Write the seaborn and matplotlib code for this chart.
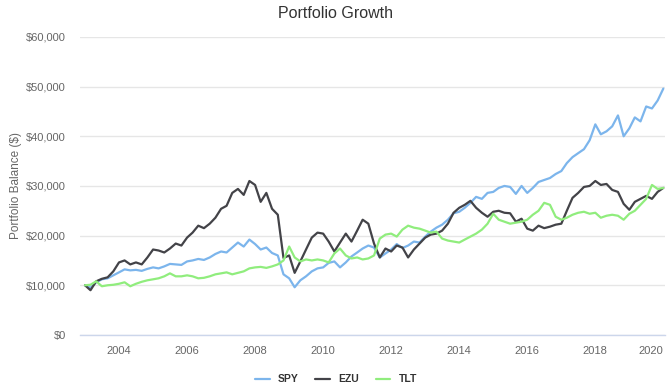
import matplotlib
matplotlib.use("Agg")
import matplotlib.pyplot as plt
import matplotlib.dates as mdates
from matplotlib.ticker import FuncFormatter
import numpy as np
import pandas as pd
import seaborn as sns

# bimonthly balances in thousands of dollars, Jan 2003 .. Jan 2020
spy = [
    10.0, 9.5, 10.6, 11.2, 11.4, 12.0,
    12.6, 13.2, 13.0, 13.1, 12.9, 13.3,
    13.6, 13.4, 13.8, 14.3, 14.2, 14.1,
    14.8, 15.0, 15.3, 15.1, 15.6, 16.3,
    16.8, 16.6, 17.6, 18.6, 17.8, 19.2,
    18.3, 17.2, 17.6, 16.5, 16.0, 12.2,
    11.4, 9.6, 11.0, 11.8, 12.8, 13.4,
    13.6, 14.5, 14.8, 13.6, 14.6, 15.8,
    16.6, 17.4, 18.0, 17.6, 15.6, 16.4,
    17.2, 18.3, 17.5, 18.0, 18.8, 18.6,
    19.8, 20.8, 21.6, 22.2, 23.2, 24.5,
    24.8, 25.6, 26.6, 27.8, 27.4, 28.6,
    28.8, 29.6, 30.0, 29.8, 28.4, 30.0,
    28.6, 29.6, 30.8, 31.2, 31.6, 32.4,
    33.0, 34.6, 35.8, 36.6, 37.4, 39.2,
    42.4, 40.4, 41.0, 42.0, 44.2, 40.0,
    41.6, 43.8, 43.0, 46.0, 45.6, 47.2,
    49.6,
]
ezu = [
    10.0, 9.0, 10.8, 11.3, 11.6, 12.8,
    14.6, 15.0, 14.2, 14.6, 14.2, 15.6,
    17.2, 17.0, 16.6, 17.4, 18.4, 18.0,
    19.6, 20.6, 22.0, 21.5, 22.4, 23.6,
    25.4, 26.0, 28.6, 29.4, 28.2, 31.0,
    30.2, 26.8, 28.6, 25.4, 24.2, 15.5,
    16.0, 12.5, 14.8, 17.2, 19.6, 20.6,
    20.4, 18.8, 16.8, 18.6, 20.4, 18.8,
    21.0, 23.2, 22.4, 18.4, 15.6, 17.4,
    16.8, 18.0, 17.6, 15.6, 17.2, 18.4,
    19.6, 20.2, 20.4, 21.0, 22.4, 24.6,
    25.6, 26.2, 27.0, 25.6, 24.6, 23.8,
    24.8, 25.0, 24.6, 24.5, 22.8, 23.4,
    21.4, 21.0, 22.0, 21.5, 21.8, 22.2,
    22.4, 25.0, 27.6, 28.6, 29.8, 30.0,
    31.0, 30.2, 30.4, 29.2, 28.8, 26.4,
    25.2, 26.8, 27.4, 28.0, 27.4, 28.8,
    29.6,
]
tlt = [
    10.0, 10.1, 10.8, 9.8, 10.0, 10.1,
    10.3, 10.6, 9.8, 10.3, 10.7, 11.0,
    11.2, 11.4, 11.8, 12.4, 11.8, 11.8,
    12.0, 11.8, 11.4, 11.5, 11.8, 12.2,
    12.4, 12.6, 12.2, 12.5, 12.8, 13.4,
    13.6, 13.7, 13.5, 13.8, 14.2, 15.0,
    17.8, 15.6, 14.8, 15.2, 15.0, 15.2,
    15.0, 14.6, 16.4, 17.4, 16.0, 15.4,
    15.6, 15.2, 15.4, 16.0, 19.4, 20.2,
    20.4, 19.8, 21.2, 22.0, 21.6, 21.4,
    21.0, 20.6, 20.8, 19.4, 19.0, 18.8,
    18.6, 19.2, 19.8, 20.4, 21.2, 22.4,
    24.4, 23.2, 22.8, 22.4, 22.6, 22.8,
    23.2, 24.2, 25.0, 26.6, 26.2, 23.8,
    23.2, 23.6, 24.2, 24.6, 24.8, 24.4,
    24.6, 23.6, 24.0, 24.2, 24.0, 23.2,
    24.4, 25.0, 26.2, 27.4, 30.2, 29.4,
    29.6,
]
tickers = ["SPY", "EZU", "TLT"]
colors = ["#7cb5ec", "#434348", "#90ed7d"]
dates = pd.date_range("2003-01-01", periods=len(spy), freq="2MS")

df = pd.DataFrame({"date": dates, "SPY": spy, "EZU": ezu, "TLT": tlt})
long = df.melt(id_vars="date", var_name="ticker", value_name="balance")
long["balance"] = long["balance"] * 1000

sns.set_theme(style="white")
plt.rcParams["font.family"] = ["Liberation Sans", "DejaVu Sans"]

fig = plt.figure(figsize=(6.72, 3.89), dpi=100)
ax = fig.add_axes([0.119, 0.139, 0.871, 0.766])

sns.lineplot(data=long, x="date", y="balance", hue="ticker",
             hue_order=tickers, palette=colors, linewidth=1.6, ax=ax, legend=False)

ax.set_ylim(0, 60000)
ax.set_yticks(range(0, 60001, 10000))
ax.yaxis.set_major_formatter(FuncFormatter(lambda v, p: f"${v:,.0f}"))
ax.set_xlim(pd.Timestamp("2002-11-08"), pd.Timestamp("2020-01-22"))
ax.xaxis.set_major_locator(mdates.YearLocator(2))
ax.xaxis.set_major_formatter(mdates.DateFormatter("%Y"))

ax.grid(axis="y", color="#e6e6e6", linewidth=1)
ax.set_axisbelow(True)
for s in ["top", "right", "left"]:
    ax.spines[s].set_visible(False)
ax.spines["bottom"].set_color("#ccd6eb")
ax.spines["bottom"].set_linewidth(1)
ax.tick_params(axis="x", colors="#666666", labelsize=8, length=5,
               width=1, color="#ccd6eb", direction="out", pad=3)
ax.tick_params(axis="y", colors="#666666", labelsize=8, length=0, pad=10)

# keep the last year label inside the figure, like the original
fig.canvas.draw()
xlabels = ax.get_xticklabels()
xlabels[-1].set_horizontalalignment("right")

ax.set_xlabel("")
ax.set_ylabel("Portfolio Balance ($)", color="#666666", fontsize=8.5, labelpad=3)
fig.suptitle("Portfolio Growth", x=0.5, y=0.985, fontsize=11.5, color="#333333")

handles = [plt.Line2D([0], [0], color=c, linewidth=1.6) for c in colors]
leg = fig.legend(handles, tickers, loc="lower center", bbox_to_anchor=(0.5, -0.012),
                 ncol=3, frameon=False, handlelength=1.4, columnspacing=1.6,
                 prop={"size": 7.5, "weight": "bold"})
for t in leg.get_texts():
    t.set_color("#333333")

fig.savefig("out.png", dpi=100)
